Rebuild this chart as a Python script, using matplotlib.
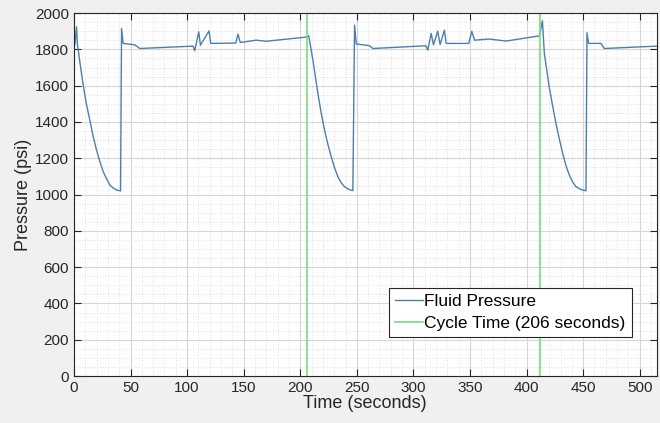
import numpy as np
import matplotlib.pyplot as plt
from matplotlib.ticker import MultipleLocator

# fluid pressure trace (time in s, pressure in psi)
time_s = [0, 1, 2.3, 3, 5.5, 8.2, 11, 14.1, 17, 20, 23, 25.9, 29, 31.8, 35, 37.7, 41.2,
          42.1, 43.5, 53.8, 58.3, 105.3, 106.8, 110.3, 111.8, 119.4, 120.9, 143, 145, 147,
          161, 170, 205.4, 207.5, 211.2, 215.6, 218.5, 221.5, 224.5, 227.4, 230.3, 233.3,
          236.2, 239.2, 243, 246.5, 248, 249.5, 261, 264.2, 311, 312.7, 315.7, 317.7,
          321.5, 323.6, 327.4, 329, 348.9, 351.6, 354, 367, 382, 411.5, 414, 415.7, 420,
          423, 426, 429, 431.9, 434.8, 437.8, 440.7, 443.7, 448, 452.5, 453.4, 454.8,
          465.7, 468.7, 515]
pressure = [1800, 1840, 1925, 1833, 1720, 1603, 1500, 1410, 1320, 1245, 1180, 1126, 1085,
            1052, 1035, 1025, 1020, 1915, 1833, 1825, 1805, 1818, 1793, 1897, 1823, 1902,
            1833, 1835, 1884, 1838, 1851, 1845, 1868, 1875, 1741, 1557, 1450, 1355, 1275,
            1208, 1148, 1098, 1065, 1043, 1028, 1022, 1934, 1830, 1821, 1805, 1820, 1796,
            1888, 1825, 1900, 1827, 1906, 1833, 1833, 1900, 1851, 1857, 1846, 1875, 1958,
            1778, 1594, 1490, 1392, 1305, 1227, 1160, 1107, 1070, 1043, 1028, 1021, 1892,
            1833, 1833, 1805, 1818]

cycle_lines = [206, 412]

plt.rcParams['font.family'] = ['Liberation Sans', 'DejaVu Sans']

fig = plt.figure(figsize=(6.6, 4.23), dpi=100, facecolor='#f0f0f0')
ax = fig.add_axes([0.112, 0.111, 0.883, 0.858])

ax.plot(time_s, pressure, color='#4a7fb0', lw=1.0, label='Fluid Pressure')
for i, c in enumerate(cycle_lines):
    ax.axvline(c, color='#7ddc7d', lw=1.2,
               label='Cycle Time (206 seconds)' if i == 0 else None)

ax.set_xlim(0, 515)
ax.set_ylim(0, 2000)
ax.xaxis.set_major_locator(MultipleLocator(50))
ax.xaxis.set_minor_locator(MultipleLocator(10))
ax.yaxis.set_major_locator(MultipleLocator(200))
ax.yaxis.set_minor_locator(MultipleLocator(50))

ax.grid(which='major', color='#d6d6d6', lw=0.8)
ax.grid(which='minor', color='#e0e0e0', lw=0.7, ls=':')
ax.set_axisbelow(True)

axc = '#262626'
for s in ax.spines.values():
    s.set_color(axc)
    s.set_linewidth(0.8)
ax.tick_params(which='major', direction='in', length=5, top=True, right=True,
               colors=axc, labelsize=11)
ax.tick_params(which='minor', direction='in', length=0, top=True, right=True)

ax.set_xlabel('Time (seconds)', fontsize=13, color=axc, labelpad=0)
ax.set_ylabel('Pressure (psi)', fontsize=13, color=axc, labelpad=2)

leg = ax.legend(loc='lower right', bbox_to_anchor=(0.957, 0.107), fontsize=12.5,
                fancybox=False, framealpha=1, edgecolor=axc, handlelength=1.6,
                handletextpad=0.1, borderpad=0.35, labelspacing=0.4,
                borderaxespad=0)
leg.get_frame().set_linewidth(0.8)

fig.savefig('out.png', dpi=100, facecolor=fig.get_facecolor())
